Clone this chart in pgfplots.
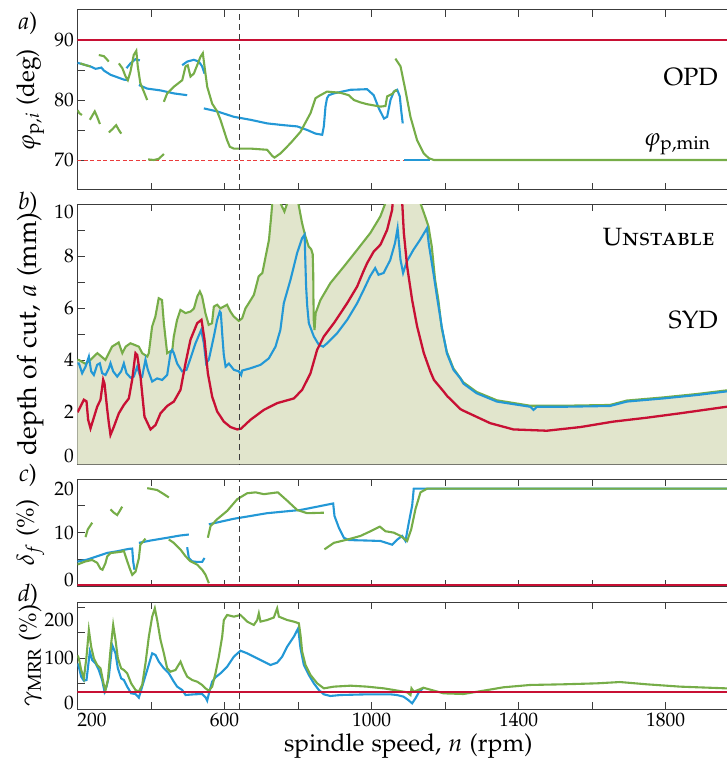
\documentclass[border=0pt]{standalone}
\usepackage[T1]{fontenc}
\usepackage[sc]{mathpazo}
\usepackage{pgfplots}
\pgfplotsset{compat=1.18}
\definecolor{cred}{RGB}{200,16,52}
\definecolor{cblue}{RGB}{35,152,214}
\definecolor{cgreen}{RGB}{118,173,72}
\definecolor{cfill}{RGB}{225,229,204}
\definecolor{cdash}{RGB}{235,60,60}
\definecolor{axisc}{RGB}{60,60,60}
\pgfplotsset{
  panel/.style={
    scale only axis, width=661.5pt, xmin=200, xmax=2000,
    xtick={200,600,1000,1400,1800}, minor xtick={400,800,1200,1600,2000},
    xticklabels={},
    tick align=inside, xtick pos=both, ytick pos=left,
    major tick length=7pt, minor tick length=7pt,
    axis line style={draw=axisc, line width=1pt},
    every tick/.append style={draw=axisc, line width=0.9pt},
    tick label style={font=\fontsize{19.5}{22}\selectfont},
    xlabel style={font=\fontsize{24.5}{28}\selectfont},
    clip mode=individual,
  },
  bl/.style={cblue, line width=2.1pt},
  gl/.style={cgreen, line width=2.1pt},
  rl/.style={cred, line width=2.3pt},
  vd/.style={axisc, line width=1.3pt, dash pattern=on 6pt off 4pt},
}
\begin{document}
\begin{tikzpicture}
% ---------------- panel a
\begin{axis}[panel, at={(0pt,-10pt)}, anchor=north west, height=180pt,
  ymin=65, ymax=95, ytick={70,80,90}, minor ytick={75,85},
  ylabel style={font=\fontsize{24.5}{28}\selectfont, at={(axis description cs:-0.0715,0.5)}, anchor=center},
  ylabel={$\varphi_{\mathrm{p},i}$ (deg)}]
\addplot[cdash, line width=0.8pt, dash pattern=on 4pt off 2.5pt] coordinates {(200,70) (1089,70)};
\addplot[rl] coordinates {(200,90) (2000,90)};
\addplot[bl] coordinates {(200,86.2) (217,85.9) (235,85.6) (249,85.2) (258,85.3) (265,85.4) (272,84.9) (290,84.2) (308,83.8) (326,83.4) (338,83.3)};
\addplot[bl] coordinates {(333.3,85.3) (344.2,86.1) (357.8,86.8) (369.6,86.6)};
\addplot[bl] coordinates {(367,82.5) (389.6,81.9) (425.9,81.6) (462.1,81.1) (498.4,80.8)};
\addplot[bl] coordinates {(484.8,85.8) (498.4,86.4) (516.6,86.7) (530.2,86.4) (539.2,85.6) (545.6,84.4)};
\addplot[bl] coordinates {(543.8,78.6) (580,78.1) (625.4,77.2) (670.8,76.7) (716.1,76.1) (761.5,75.8) (797.7,75.6) (825,75.0) (847.6,74.4) (865.8,74.2) (870.3,75.6) (874.8,78.9) (879,80.3) (883.9,80.8) (897.5,81.1) (943,81.7) (988,81.8) (1006,80.8) (1020,78.6) (1034,76.9) (1042.6,77.2) (1051.7,80) (1060.8,81.4) (1070,81.7) (1077,80.6) (1080.7,78.3) (1085,76.1)};
\addplot[bl] coordinates {(1089,70) (1160,70)};
\addplot[gl] coordinates {(200,78.3) (205,77.8) (212,77.5)};
\addplot[gl] coordinates {(208,86.1) (228,85.7) (235,85.6)};
\addplot[gl] coordinates {(258,87.5) (272,87.3) (281,86.7) (285,86.4)};
\addplot[gl] coordinates {(233.6,76.7) (247,78.1) (253.5,77.2) (261,76.0)};
\addplot[gl] coordinates {(285.3,74.6) (294.3,75.1) (305.2,75.8) (312.5,75.0) (319,74.4)};
\addplot[gl] coordinates {(392.3,70.1) (407.7,70.0) (421.3,70.2) (435,71.0)};
\addplot[gl] coordinates {(312.5,86.1) (322,85.3) (331,83.9) (337,83.3) (344,84.7) (353,87.5) (360,88.2) (364,85.6) (371,82.8) (380.5,81.4) (389.6,80)};
\addplot[gl] coordinates {(435,79.7) (444,81.1) (462,82.2) (485,83.3) (494,85.6) (500,85.8) (507.5,83.9) (516.6,84.4) (525.6,85.8) (534.7,87.2) (541,87.8) (545.6,85.6) (553,82.2) (566.4,79.4) (580,78.1) (589,76.7) (598,75) (607,73.3) (614.5,72.2) (625.4,71.9) (670.8,71.9) (716.1,71.7) (729.7,70.7) (736,70.4) (752.4,71.1) (779.6,72.8) (806.8,74.7) (834,77.8) (847.6,80.3) (861,80.8) (879,81.4) (897.5,81.3) (915.6,81.2) (938,80.8) (952,80) (970,79.6) (988,79.3) (1024.5,78.9) (1038,79) (1042.6,80.6) (1056,81) (1065,81.6) (1070,81.5)};
\addplot[gl] coordinates {(1065,86.9) (1079,85.6) (1092,81.7) (1106,77.2) (1124,73.3) (1142,71.1) (1156,70.3) (1170,70) (2000,70)};
\addplot[vd] coordinates {(641,60) (641,100)};
\node[anchor=east, font=\fontsize{25}{28}\selectfont] at (axis cs:1952,83.8) {OPD};
\node[anchor=east, font=\fontsize{25}{28}\selectfont] at (axis cs:1932,72.6) {$\varphi_{\mathrm{p,min}}$};
\node[font=\fontsize{24}{28}\selectfont] at (rel axis cs:0,1) [xshift=-49.5pt, yshift=-13pt] {\textit{a})};
\end{axis}
% ---------------- panel b
\begin{axis}[panel, at={(0pt,-204pt)}, anchor=north west, height=260.3pt,
  ymin=0, ymax=10, ytick={0,2,4,6,8,10}, minor ytick={1,3,5,7,9},
  yticklabels={\raisebox{2pt}[0pt][0pt]{0},2,4,6,8,\raisebox{-15pt}[0pt][0pt]{10}},
  ylabel style={font=\fontsize{26.5}{30}\selectfont, at={(axis description cs:-0.0715,0.5)}, anchor=center},
  ylabel={depth of cut, $a$ (mm)}]
\addplot[fill=cfill, draw=none] coordinates {(200,4.01) (203.6,4.01) (221.8,3.86) (235,4.01) (254,4.27) (276,4.01) (294,4.52) (312,4.68) (322,4.27) (331,4.52) (344,4.65) (353,4.6) (367,4.52) (376,4.27) (390,4.14) (394,4.27) (403,5.29) (412,5.68) (421,6.38) (430,6.31) (435,5.42) (444,4.27) (458,4.39) (462,4.91) (471,5.55) (480,5.93) (494,5.81) (508,5.87) (517,5.99) (526,6.45) (533,6.64) (539,6.45) (548,5.81) (557,5.36) (566,5.42) (571,6.06) (580,6.13) (589,5.99) (598,6.06) (607,6.13) (616,5.87) (625,5.68) (639,5.51) (648,5.61) (657,5.99) (666,6.19) (680,6.51) (693,7.22) (703,7.35) (712,7.99) (721,8.62) (727,9.52) (730,10.04) (740,11.08) (752,10.04) (763,9.71) (771,10.04) (785,11.0) (802,9.95) (811,9.27) (820,8.76) (829,8.37) (836,8.26) (840,8.07) (841.5,7.3) (842,6.38) (843,5.5) (845,5.16) (848,5.81) (861,6.31) (888,6.96) (925,7.6) (961,8.24) (997,8.89) (1024,9.52) (1038,10.04) (1085,12.0) (1133,10.04) (1146,9.52) (1155,9.14) (1164,8.37) (1173,7.09) (1182,6.31) (1191,5.23) (1205,4.32) (1223,3.68) (1250,3.15) (1286,2.78) (1341,2.46) (1432,2.25) (1522,2.25) (1649,2.28) (1695,2.45) (1794,2.57) (1885,2.7) (1966,2.84) (2000,2.87)} \closedcycle;
\addplot[gl] coordinates {(200,4.01) (203.6,4.01) (221.8,3.86) (235,4.01) (254,4.27) (276,4.01) (294,4.52) (312,4.68) (322,4.27) (331,4.52) (344,4.65) (353,4.6) (367,4.52) (376,4.27) (390,4.14) (394,4.27) (403,5.29) (412,5.68) (421,6.38) (430,6.31) (435,5.42) (444,4.27) (458,4.39) (462,4.91) (471,5.55) (480,5.93) (494,5.81) (508,5.87) (517,5.99) (526,6.45) (533,6.64) (539,6.45) (548,5.81) (557,5.36) (566,5.42) (571,6.06) (580,6.13) (589,5.99) (598,6.06) (607,6.13) (616,5.87) (625,5.68) (639,5.51) (648,5.61) (657,5.99) (666,6.19) (680,6.51) (693,7.22) (703,7.35) (712,7.99) (721,8.62) (727,9.52) (730,10.04) (740,11.08) (752,10.04) (763,9.71) (771,10.04) (785,11.0) (802,9.95) (811,9.27) (820,8.76) (829,8.37) (836,8.26) (840,8.07) (841.5,7.3) (842,6.38) (843,5.5) (845,5.16) (848,5.81) (861,6.31) (888,6.96) (925,7.6) (961,8.24) (997,8.89) (1024,9.52) (1038,10.04) (1085,12.0) (1133,10.04) (1146,9.52) (1155,9.14) (1164,8.37) (1173,7.09) (1182,6.31) (1191,5.23) (1205,4.32) (1223,3.68) (1250,3.15) (1286,2.78) (1341,2.46) (1432,2.25) (1522,2.25) (1649,2.28) (1695,2.45) (1794,2.57) (1885,2.7) (1966,2.84) (2000,2.87)};
\addplot[bl] coordinates {(200,3.88) (203.6,3.88) (212.7,3.5) (221.8,3.75) (230.9,4.14) (237.2,3.57) (244.5,3.43) (253.5,3.82) (260.8,3.88) (267.1,3.5) (276.2,3.43) (285.3,3.69) (289.8,3.88) (297.1,3.57) (308,3.37) (318.8,3.57) (326.1,3.88) (333.3,3.5) (344.2,3.33) (353.3,3.37) (362.4,3.75) (369.6,3.43) (376,3.37) (385,4.02) (391.4,3.63) (403.2,3.18) (416.8,3.3) (430.4,3.24) (444,3.43) (453.1,4.27) (457.6,4.39) (462.1,4.27) (471.2,3.87) (484.8,3.57) (496.6,3.63) (507.5,4.07) (521.1,4.65) (536.5,5.16) (543.8,4.65) (550.1,3.88) (557.4,4.02) (571,4.91) (580,5.55) (587.3,5.87) (590,5.82) (594,4.97) (598,4.22) (603,3.75) (612,3.87) (625.4,3.63) (639,3.57) (645.4,3.43) (648,3.6) (670.7,3.69) (698,3.82) (720.6,4.07) (738.8,4.52) (752,5.16) (761.4,6.19) (779.6,7.09) (797.7,8.12) (811.3,8.69) (818,8.82) (820,7.79) (822,6.85) (825,6.1) (829.5,5.42) (843.1,4.91) (856.7,4.59) (868.5,4.52) (879.3,4.65) (906.6,5.04) (933.8,5.55) (961,6.19) (979,6.71) (996,7.22) (1010,7.54) (1019,7.28) (1033,7.35) (1051,7.85) (1064,8.5) (1071,9.07) (1079,7.85) (1086,7.35) (1096,7.79) (1114,8.24) (1132,8.62) (1151,9.07) (1156,8.45) (1160,8.1) (1169,7.3) (1178,6.45) (1191,5.3) (1205,4.27) (1223,3.63) (1242,3.3) (1250,3.1) (1286,2.73) (1341,2.41) (1432,2.21) (1441,2.09) (1450,2.21) (1522,2.21) (1649,2.24) (1695,2.41) (1794,2.53) (1885,2.66) (1966,2.8) (2000,2.83)};
\addplot[rl] coordinates {(200,2.0) (203.6,2.09) (217.3,2.48) (224.5,2.42) (229,1.71) (235.4,1.38) (242.6,1.71) (253.5,2.21) (262.6,2.48) (269.9,3.25) (273.5,3.1) (280.7,2.13) (285.3,1.58) (289.8,1.13) (298.9,1.44) (312.5,1.96) (326.1,2.28) (339.7,2.53) (348.8,3.25) (357.8,4.27) (362.4,4.2) (371.4,3.37) (382.3,1.83) (398.7,1.34) (412.3,1.51) (425.9,1.96) (444,2.24) (462.1,2.41) (480.3,2.86) (493.9,3.88) (507.5,4.79) (525.6,5.42) (537.4,5.55) (545.6,4.79) (554.7,3.5) (566.4,2.6) (580,2.03) (598.2,1.64) (616.3,1.43) (634.5,1.34) (645,1.37) (670.7,1.71) (707,2.09) (743.3,2.35) (788.6,2.53) (811.3,2.86) (834,3.5) (852.1,4.4) (870.3,4.91) (897.5,5.42) (933.8,6.19) (961,6.83) (978,7.41) (988.2,7.73) (1006.3,8.18) (1024.5,8.44) (1042.6,9.01) (1056.2,9.78) (1070,12.5) (1083.4,10.1) (1088,8.89) (1097,7.6) (1110.6,6.31) (1124.2,5.29) (1142.4,4.27) (1160,3.57) (1170,3.24) (1196,2.8) (1206,2.62) (1242,2.12) (1250,2.06) (1323,1.58) (1386,1.34) (1477,1.29) (1568,1.43) (1658,1.64) (1749,1.79) (1840,1.96) (1966,2.21) (2000,2.25)};
\addplot[vd] coordinates {(641,-1) (641,11)};
\node[anchor=east, font=\fontsize{25}{28}\selectfont] at (axis cs:1943,8.74) {\textsc{Unstable}};
\node[anchor=east, font=\fontsize{25}{28}\selectfont] at (axis cs:1952,5.55) {SYD};
\node[font=\fontsize{24}{28}\selectfont] at (rel axis cs:0,1) [xshift=-49.5pt, yshift=1pt] {\textit{b})};
\end{axis}
% ---------------- panel c
\begin{axis}[panel, at={(0pt,-479pt)}, anchor=north west, height=107.5pt,
  ymin=0, ymax=20, ytick={0,10,20}, minor ytick={5,15},
  yticklabels={\raisebox{0pt}[0pt][0pt]{0},10,\raisebox{-16pt}[0pt][0pt]{20}},
  ylabel style={font=\fontsize{24.5}{28}\selectfont, at={(axis description cs:-0.0715,0.5)}, anchor=center},
  ylabel={$\delta_f$ (\%)}]
\addplot[bl] coordinates {(200,4.6) (203.6,4.69) (226.3,5.0) (253.5,5.62) (280.7,6.25) (308,6.56) (339.7,7.0) (348.8,7.06) (351.5,4.67) (355,3.12)};
\addplot[bl] coordinates {(367,8.12) (398.6,8.55) (444,9.07) (480.3,9.5) (503,9.67)};
\addplot[bl] coordinates {(498.4,7.31) (503,5.31) (512,4.69) (525.6,4.57) (539.2,4.57) (545.6,5.31)};
\addplot[bl] coordinates {(557.4,11.57) (625.4,12.6) (716,13.64) (806.8,14.24) (852.2,14.85) (895.7,15.45) (899.3,13.12) (911,10.97) (924.7,9.07) (938.3,8.64) (988.2,8.55) (1024.5,8.47) (1056.2,7.78) (1069.8,8.72) (1083.4,9.41) (1092.5,8.47) (1101.6,11.92) (1110.6,15.02) (1115,18.21) (2000,18.21)};
\addplot[gl] coordinates {(200,4.1) (203.6,4.19) (221.8,4.67) (240,4.93) (253.5,4.41) (262.6,3.29) (268,3.12) (276,4.33) (281,5.62) (290,6.22) (320,6.48) (326,6.65) (335,4.76) (343,3.2) (349,2.17) (358,2.77) (367,5.27) (371,7.78) (385,8.9)};
\addplot[gl] coordinates {(221.8,9.19) (228,10.62) (240,11.87)};
\addplot[gl] coordinates {(289.8,14.37) (299,13.73) (308,13.3) (315,14.07) (321.5,14.85)};
\addplot[gl] coordinates {(389.6,18.3) (416.8,17.95) (435,17.18) (448.5,16.57)};
\addplot[gl] coordinates {(448.5,8.75) (462,8.12) (480.3,6.88) (494,5.62) (507.5,4.69) (525.6,4.07) (539.2,3.12) (548.3,2.19) (557.4,0.62)};
\addplot[gl] coordinates {(554.7,9.07) (562,11.23) (580,12.52) (607.3,14.07) (634.5,16.23) (661.7,17.35) (684.4,17.52) (707,17.18) (745.1,17.52) (770.5,15.97) (797.7,14.24) (825,13.64) (870.3,13.73)};
\addplot[gl] coordinates {(872,6.91) (897.5,8.12) (933.8,8.72) (970,9.41) (997.3,10.28) (1022.7,11.14) (1038,10.28) (1060.8,10.02) (1079,9.41) (1097,8.47) (1108,10.62) (1119.7,14.42) (1133.3,17.52) (1151.5,18.21) (2000,18.21)};
\addplot[rl, line width=2.6pt] coordinates {(200,0.25) (2000,0.25)};
\addplot[vd] coordinates {(641,-1) (641,25)};
\node[font=\fontsize{24}{28}\selectfont] at (rel axis cs:0,1) [xshift=-49.5pt, yshift=4pt] {\textit{c})};
\end{axis}
% ---------------- panel d
\begin{axis}[panel, at={(0pt,-602pt)}, anchor=north west, height=107pt,
  ymin=0, ymax=211, ytick={0,100,200}, minor ytick={50,150},
  yticklabels={\raisebox{0pt}[0pt][0pt]{0},100,\raisebox{-19pt}[0pt][0pt]{200}},
  xticklabels={\makebox[0pt][l]{200},600,1000,1400,1800},
  xlabel={spindle speed, $n$ (rpm)},
  ylabel style={font=\fontsize{24.5}{28}\selectfont, at={(axis description cs:-0.0715,0.5)}, anchor=center},
  ylabel={$\gamma_{\mathrm{MRR}}$ (\%)}]
\addplot[bl] coordinates {(200,89.6) (203.6,83.5) (210,63.8) (217.3,55.9) (224.5,57.2) (233.6,113.1) (240,96.6) (249,90.1) (258,76.9) (267.1,57.2) (273.5,34.2) (279,44.1) (285.3,63.8) (294.3,126.3) (303.4,109.8) (309.8,80.2) (318.8,60.4) (326.1,57.2) (335.2,44.1) (346,30.9) (357.8,29.6) (366.9,22.4) (376,44.1) (389.6,76.9) (403.2,109.8) (412.3,106.5) (421.3,93.3) (435,80.2) (448.5,70.4) (462.1,53.9) (471.2,44.1) (484.8,37.5) (494,27.6) (516.6,28.9) (539.2,29.6) (548.3,23.0) (552.8,16.4) (560,37.5) (566.4,53.9) (575.5,62.4) (589.1,70.4) (607.3,83.5) (625.4,103.2) (643.5,115.0) (661.7,109.8) (679.8,103.2) (707,93.3) (725.2,86.8) (743.3,91.4) (757,103.2) (770.5,122.9) (788.7,142.6) (800.5,159.2) (806.8,119.6) (815.9,86.8) (829.5,67.1) (843.1,50.6) (856.7,37.5) (870.3,28.9) (888.4,25.7) (915.6,27.6) (988.2,28.9) (1051.7,28.9) (1069,27.6) (1087,24.4) (1100,17.7) (1110.6,11.2) (1119.7,21.0) (1128.8,32.9) (1140,41.3)};
\addplot[gl] coordinates {(200,105.9) (203.6,99.9) (210,76.9) (217.3,60.4) (224.5,103.2) (230.9,155.8) (237.2,122.9) (244.5,99.9) (253.5,86.8) (262.6,80.2) (271.7,47.4) (276.2,37.5) (282.6,57.2) (289.8,116.4) (297.1,165.7) (303.4,136.1) (309.8,99.9) (318.8,80.2) (326.1,76.9) (335.2,70.4) (346,50.6) (357.8,37.5) (366.9,34.2) (376,47.4) (385,90.1) (394.1,142.6) (403.2,182.1) (410.4,198.5) (416.8,175.5) (425.9,136.1) (435,109.8) (444,80.2) (453.1,73.6) (466.7,76.9) (480.3,93.3) (489.4,76.9) (498.4,63.8) (512,57.2) (525.6,53.9) (539.2,47.4) (548.3,40.7) (557.4,36.1) (566.4,44.1) (575.5,70.4) (584.6,103.2) (593.7,142.6) (598.2,175.5) (607.3,185.4) (625.4,182.1) (643.5,185.4) (661.7,172.3) (679.8,165.7) (689,175.5) (693.4,188.6) (698,172.3) (716.1,175.5) (734.2,180.4) (743.3,198.5) (748,182.1) (770.5,175.5) (788.7,172.3) (802.3,169.0) (806.8,146.0) (811.3,113.1) (820.4,86.8) (834,67.1) (852.2,50.6) (870.3,40.7) (897.5,44.1) (942.9,46.0) (988.2,44.1) (1033.6,40.7) (1060.8,37.5) (1097,32.9) (1106.1,27.6) (1108.8,40.7) (1115.2,34.2) (1133.3,39.4) (1141,42.0) (1196,30.9) (1250,29.6) (1304.5,36.1) (1359,42.8) (1431.5,47.4) (1522,48.7) (1613,50.6) (1676,53.2) (1749,48.7) (1840,44.1) (1966,40.7) (2000,40.5)};
\addplot[rl] coordinates {(200,34) (2000,34)};
\addplot[vd] coordinates {(641,-20) (641,260)};
\node[font=\fontsize{24}{28}\selectfont] at (rel axis cs:0,1) [xshift=-49.5pt, yshift=7pt] {\textit{d})};
\end{axis}
\pgfresetboundingbox
\path[use as bounding box] (-77.5pt,0pt) rectangle (648.5pt,-765pt);
\end{tikzpicture}
\end{document}
